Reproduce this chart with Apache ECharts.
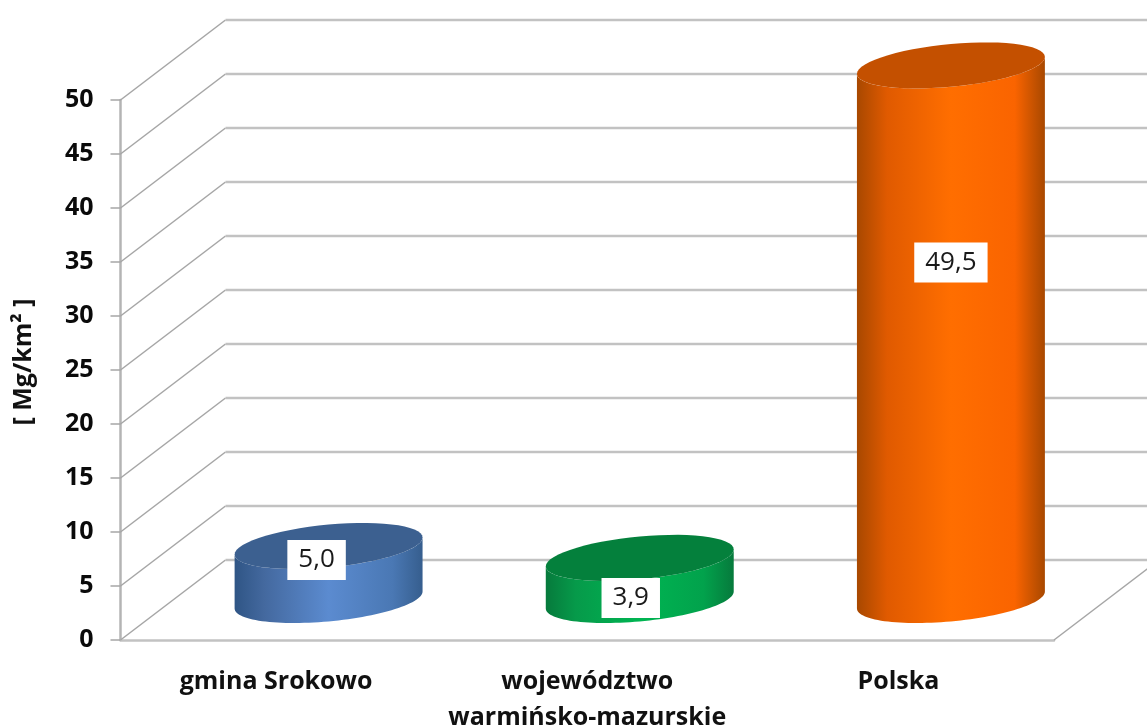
<!DOCTYPE html>
<html>
<head>
<meta charset="utf-8">
<title>Mg/km2</title>
<script src="https://cdn.jsdelivr.net/npm/echarts@6/dist/echarts.min.js"></script>
<style>
  html, body { margin: 0; padding: 0; background: #fff; }
  #chart { width: 1147px; height: 727px; }
</style>
</head>
<body>
<div id="chart"></div>
<script>
const categories = ['gmina Srokowo', 'województwo\nwarmińsko-mazurskie', 'Polska']
const values = [5.0, 3.9, 49.5]
const yTicks = [0, 5, 10, 15, 20, 25, 30, 35, 40, 45, 50]

// depth of the fake 3d box, in pixels
const depthX = 105
const depthY = 80

const bodyColors = [
  ['#2f5585', '#44699f', '#5b8bd0', '#4a78b4', '#365e8e'],
  ['#067a3c', '#069a4a', '#00b552', '#02a24c', '#067a3c'],
  ['#a84800', '#e05a00', '#ff6e00', '#fa6400', '#a84800'],
]
const topColors = ['#3c6090', '#04803c', '#c45000']
// label box position relative to the middle of the cylinder top
const labelShift = [[-12, 14], [-9, 40], [0, 197]]

function renderWall(params, api) {
  const rect = params.coordSys
  const y = api.coord([0, api.value(1)])[1]
  const isFloor = api.value(1) === 0
  const x0 = rect.x
  const children = [
    {
      type: 'line',
      shape: { x1: x0, y1: y, x2: x0 + depthX, y2: y - depthY },
      style: { stroke: '#a6a6a6', lineWidth: 1.5 },
    },
    {
      type: 'line',
      shape: { x1: x0 + depthX, y1: y - depthY, x2: 1160, y2: y - depthY },
      style: { stroke: '#c2c2c2', lineWidth: 2.5 },
    },
  ]
  if (isFloor) {
    children.push({
      type: 'line',
      shape: { x1: x0 + rect.width, y1: y, x2: x0 + rect.width + depthX, y2: y - depthY },
      style: { stroke: '#a6a6a6', lineWidth: 1.5 },
    })
  }
  return { type: 'group', children }
}

function ellipsePoints(cx, cy, a, b, tilt, from, to) {
  const pts = []
  const n = 60
  for (let i = 0; i <= n; i++) {
    const t = from + ((to - from) * i) / n
    pts.push([cx + a * Math.cos(t), cy + b * Math.sin(t) - tilt * Math.cos(t)])
  }
  return pts
}

function renderCylinder(params, api) {
  const i = params.dataIndex
  const top = api.coord([i, api.value(1)])
  const base = api.coord([i, 0])
  const a = api.size([1, 0])[0] * 0.302
  const b = 21.4
  const tilt = 8.5
  const cx = top[0] + depthX / 2
  const topY = top[1] - depthY / 2
  const baseY = base[1] - depthY / 2

  // back half of the top, then the front half of the base
  const side = ellipsePoints(cx, topY, a, b, tilt, 0, Math.PI).concat(
    ellipsePoints(cx, baseY, a, b, tilt, Math.PI, 0)
  )
  const stops = bodyColors[i]
  return {
    type: 'group',
    children: [
      {
        type: 'polygon',
        shape: { points: side },
        style: {
          fill: new echarts.graphic.LinearGradient(0, 0, 1, 0, [
            { offset: 0, color: stops[0] },
            { offset: 0.16, color: stops[1] },
            { offset: 0.5, color: stops[2] },
            { offset: 0.84, color: stops[3] },
            { offset: 1, color: stops[4] },
          ]),
        },
      },
      {
        type: 'polygon',
        shape: { points: ellipsePoints(cx, topY, a, b, tilt, 0, Math.PI * 2) },
        style: { fill: topColors[i] },
      },
      {
        type: 'text',
        z2: 10,
        style: {
          text: api.value(1).toFixed(1).replace('.', ','),
          x: cx + labelShift[i][0],
          y: topY + labelShift[i][1],
          align: 'center',
          verticalAlign: 'middle',
          font: '26px "Open Sans"',
          fill: '#1a1a1a',
          backgroundColor: '#fff',
          padding: [7, 11, 7, 11],
        },
      },
    ],
  }
}

const chart = echarts.init(document.getElementById('chart'))
chart.setOption({
  animation: false,
  backgroundColor: '#fff',
  grid: { left: 120.5, right: 93, top: 100, bottom: 87, outerBoundsMode: 'none' },
  xAxis: {
    type: 'category',
    data: categories,
    axisLine: { lineStyle: { color: '#c2c2c2', width: 2.5 } },
    axisTick: { show: false },
    axisLabel: {
      margin: 24,
      interval: 0,
      color: '#111',
      fontFamily: 'Open Sans',
      fontWeight: 'bold',
      fontSize: 25,
      lineHeight: 36,
    },
  },
  yAxis: {
    type: 'value',
    min: 0,
    max: 50,
    interval: 5,
    name: '[ Mg/km² ]',
    nameLocation: 'middle',
    nameRotate: 90,
    nameGap: 84,
    nameTextStyle: {
      color: '#111',
      fontFamily: 'Open Sans',
      fontWeight: 'bold',
      fontSize: 25,
      padding: [0, 0, 0, 16],
    },
    splitLine: { show: false },
    axisLine: { show: true, lineStyle: { color: '#b4b4b4', width: 2.5 } },
    axisTick: { show: true, length: 10, lineStyle: { color: '#a6a6a6', width: 1.5 } },
    axisLabel: {
      margin: 27,
      color: '#0a0a0a',
      fontFamily: 'Open Sans',
      fontWeight: 'bold',
      fontSize: 25,
      padding: [4, 0, 0, 0],
    },
  },
  series: [
    {
      type: 'custom',
      silent: true,
      clip: false,
      z: 1,
      renderItem: renderWall,
      encode: { x: 0, y: 1 },
      data: yTicks.map((v) => [0, v]),
    },
    {
      type: 'custom',
      silent: true,
      clip: false,
      z: 3,
      renderItem: renderCylinder,
      encode: { x: 0, y: 1 },
      data: values.map((v, i) => [i, v]),
    },
  ],
})
</script>
</body>
</html>
